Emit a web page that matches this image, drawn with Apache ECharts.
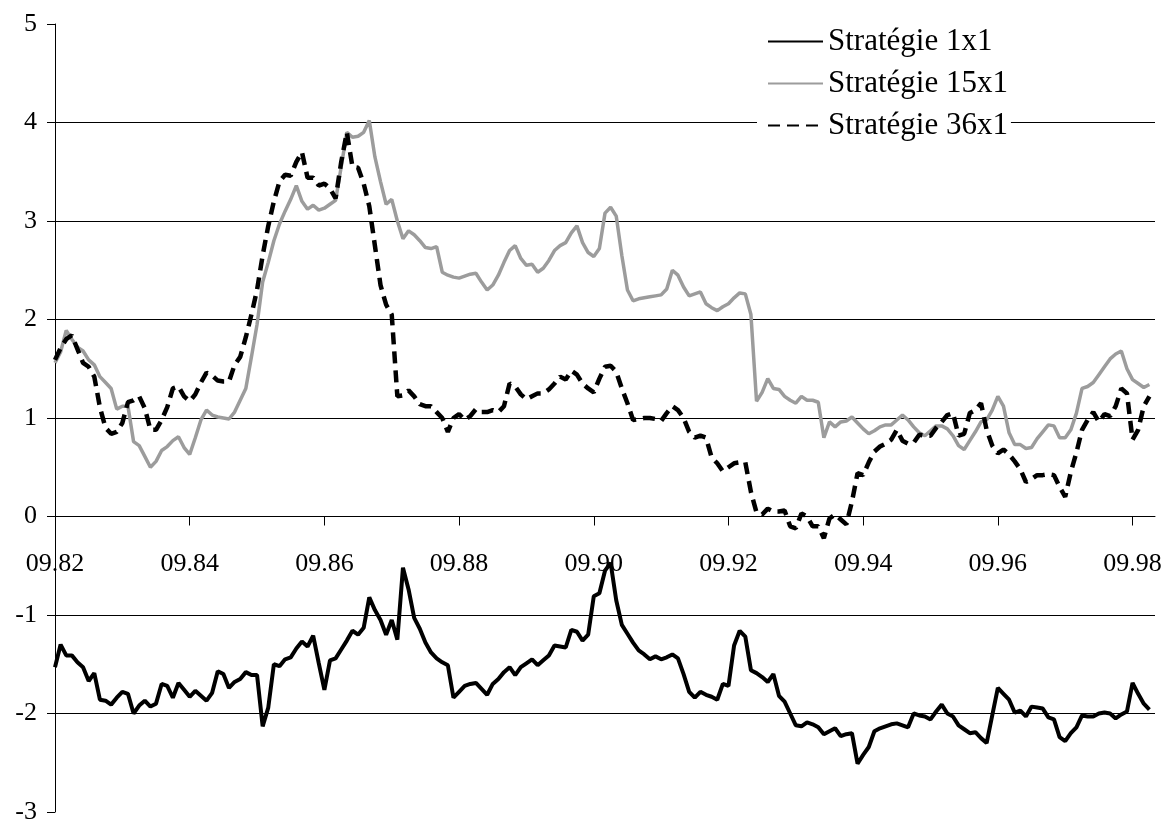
<!DOCTYPE html>
<html>
<head>
<meta charset="utf-8">
<script src="https://cdn.jsdelivr.net/npm/echarts@6/dist/echarts.min.js"></script>
<style>
  html, body { margin: 0; padding: 0; background: #fff; }
  #chart { width: 1164px; height: 822px; }
</style>
</head>
<body>
<div id="chart"></div>
<script>
// ---- Data ----
const startMonth = 9, startYear = 82, monthCount = 197;
const categories = [];
for (let k = 0; k < monthCount; k++) {
  const m = (startMonth - 1 + k) % 12 + 1;
  const y = (startYear + Math.floor((startMonth - 1 + k) / 12)) % 100;
  categories.push(String(m).padStart(2, '0') + '.' + String(y).padStart(2, '0'));
}

const seriesNames = ['Stratégie 1x1', 'Stratégie 15x1', 'Stratégie 36x1'];

const s1x1 = [
  -1.53, -1.30, -1.41, -1.41, -1.48, -1.53, -1.67, -1.59, -1.86, -1.87,
  -1.91, -1.84, -1.78, -1.80, -2.00, -1.92, -1.87, -1.93, -1.90, -1.70,
  -1.72, -1.84, -1.69, -1.76, -1.83, -1.77, -1.82, -1.87, -1.79, -1.57,
  -1.60, -1.74, -1.68, -1.65, -1.58, -1.61, -1.61, -2.13, -1.94, -1.50,
  -1.52, -1.45, -1.43, -1.34, -1.27, -1.32, -1.21, -1.49, -1.76, -1.46,
  -1.44, -1.35, -1.26, -1.16, -1.20, -1.13, -0.82, -0.95, -1.05, -1.20,
  -1.05, -1.25, -0.52, -0.74, -1.03, -1.14, -1.28, -1.38, -1.44, -1.48,
  -1.51, -1.84, -1.78, -1.72, -1.70, -1.69, -1.75, -1.81, -1.70, -1.65,
  -1.58, -1.53, -1.61, -1.53, -1.49, -1.45, -1.51, -1.46, -1.41, -1.31,
  -1.32, -1.33, -1.15, -1.17, -1.26, -1.20, -0.81, -0.78, -0.55, -0.47,
  -0.85, -1.10, -1.19, -1.28, -1.36, -1.40, -1.45, -1.42, -1.45, -1.43,
  -1.40, -1.44, -1.60, -1.78, -1.84, -1.78, -1.81, -1.83, -1.86, -1.70,
  -1.72, -1.31, -1.16, -1.22, -1.56, -1.59, -1.63, -1.68, -1.60, -1.82,
  -1.88, -2.00, -2.12, -2.13, -2.09, -2.11, -2.14, -2.21, -2.18, -2.15,
  -2.23, -2.21, -2.20, -2.51, -2.42, -2.34, -2.18, -2.15, -2.13, -2.11,
  -2.10, -2.12, -2.14, -2.00, -2.02, -2.03, -2.06, -1.98, -1.91, -2.00,
  -2.03, -2.12, -2.16, -2.20, -2.19, -2.25, -2.30, -2.02, -1.74, -1.80,
  -1.86, -1.99, -1.97, -2.03, -1.93, -1.94, -1.95, -2.04, -2.06, -2.24,
  -2.28, -2.20, -2.14, -2.02, -2.03, -2.03, -2.00, -1.99, -2.00, -2.05,
  -2.01, -1.98, -1.69, -1.80, -1.90, -1.96
];

const s15x1 = [
  1.56, 1.67, 1.89, 1.80, 1.72, 1.68, 1.59, 1.54, 1.42, 1.36,
  1.30, 1.09, 1.12, 1.12, 0.76, 0.72, 0.61, 0.50, 0.56, 0.67,
  0.71, 0.77, 0.81, 0.70, 0.63, 0.80, 0.98, 1.08, 1.03, 1.01,
  1.00, 0.99, 1.06, 1.18, 1.30, 1.62, 1.95, 2.38, 2.58, 2.80,
  2.97, 3.10, 3.22, 3.36, 3.20, 3.12, 3.16, 3.11, 3.13, 3.17,
  3.21, 3.55, 3.90, 3.85, 3.86, 3.90, 4.02, 3.65, 3.40, 3.17,
  3.22, 3.00, 2.82, 2.90, 2.86, 2.80, 2.73, 2.72, 2.74, 2.48,
  2.45, 2.43, 2.42, 2.44, 2.46, 2.47, 2.38, 2.30, 2.35, 2.45,
  2.58, 2.70, 2.75, 2.62, 2.55, 2.56, 2.48, 2.52, 2.60, 2.70,
  2.75, 2.78, 2.88, 2.95, 2.78, 2.68, 2.64, 2.72, 3.08, 3.14,
  3.05, 2.65, 2.30, 2.19, 2.21, 2.22, 2.23, 2.24, 2.25, 2.31,
  2.50, 2.45, 2.33, 2.24, 2.26, 2.28, 2.16, 2.12, 2.09, 2.13,
  2.16, 2.22, 2.27, 2.26, 2.05, 1.17, 1.26, 1.40, 1.30, 1.29,
  1.22, 1.18, 1.15, 1.22, 1.18, 1.18, 1.16, 0.80, 0.96, 0.91,
  0.96, 0.97, 1.01, 0.95, 0.89, 0.84, 0.87, 0.91, 0.93, 0.93,
  0.98, 1.03, 0.98, 0.91, 0.85, 0.82, 0.87, 0.92, 0.92, 0.89,
  0.82, 0.72, 0.68, 0.77, 0.86, 0.96, 0.98, 1.08, 1.22, 1.12,
  0.85, 0.73, 0.73, 0.69, 0.70, 0.79, 0.86, 0.93, 0.92, 0.80,
  0.80, 0.88, 1.05, 1.30, 1.32, 1.36, 1.44, 1.52, 1.60, 1.65,
  1.68, 1.50, 1.39, 1.35, 1.31, 1.34
];

const s36x1 = [
  1.59, 1.71, 1.80, 1.84, 1.70, 1.56, 1.52, 1.42, 1.11, 0.90,
  0.84, 0.86, 0.95, 1.16, 1.18, 1.22, 1.10, 0.88, 0.88, 0.98,
  1.11, 1.30, 1.32, 1.22, 1.17, 1.24, 1.36, 1.46, 1.43, 1.38,
  1.37, 1.37, 1.54, 1.62, 1.82, 2.05, 2.30, 2.65, 2.95, 3.20,
  3.40, 3.47, 3.46, 3.60, 3.70, 3.44, 3.44, 3.36, 3.38, 3.33,
  3.23, 3.60, 3.90, 3.55, 3.54, 3.38, 3.15, 2.75, 2.35, 2.15,
  2.05, 1.22, 1.23, 1.28, 1.22, 1.14, 1.12, 1.12, 1.06, 1.00,
  0.86, 1.00, 1.04, 0.98, 1.02, 1.09, 1.06, 1.06, 1.08, 1.06,
  1.12, 1.35, 1.32, 1.24, 1.19, 1.22, 1.25, 1.25, 1.29, 1.35,
  1.42, 1.39, 1.48, 1.44, 1.35, 1.30, 1.26, 1.40, 1.52, 1.53,
  1.47, 1.30, 1.15, 0.98, 0.99, 1.00, 1.00, 0.99, 0.97, 1.05,
  1.12, 1.08, 1.00, 0.86, 0.80, 0.82, 0.80, 0.60, 0.54, 0.46,
  0.50, 0.54, 0.55, 0.55, 0.25, 0.04, 0.02, 0.08, 0.05, 0.05,
  0.06, -0.10, -0.12, 0.03, 0.00, -0.10, -0.10, -0.22, -0.02, 0.02,
  -0.03, -0.08, 0.15, 0.44, 0.42, 0.55, 0.66, 0.71, 0.74, 0.78,
  0.88, 0.77, 0.74, 0.75, 0.83, 0.82, 0.82, 0.90, 0.96, 1.03,
  1.05, 0.82, 0.84, 1.05, 1.08, 1.15, 0.88, 0.72, 0.64, 0.68,
  0.63, 0.56, 0.48, 0.35, 0.38, 0.42, 0.42, 0.43, 0.42, 0.30,
  0.20, 0.45, 0.65, 0.88, 0.98, 1.06, 0.96, 1.04, 1.02, 1.12,
  1.30, 1.25, 0.78, 0.88, 1.12, 1.22
];

// ---- Chart ----
const FONT = "'Liberation Serif', 'Times New Roman', serif";
const Y_MIN = -3, Y_MAX = 5;
const GRID = { left: 55, right: 9, top: 24, bottom: 10 };
const chartH = 822;
const gridH = chartH - GRID.top - GRID.bottom;
// distance (px) from the grid bottom up to the zero line, used to place the date labels
const zeroOffset = gridH * (0 - Y_MIN) / (Y_MAX - Y_MIN);

const chart = echarts.init(document.getElementById('chart'), null, { renderer: 'canvas' });
chart.setOption({
  animation: false,
  backgroundColor: '#fff',
  grid: Object.assign({ containLabel: false, outerBoundsMode: 'none' }, GRID),
  legend: {
    orient: 'vertical',
    left: 757,
    top: 26,
    itemWidth: 55,
    itemHeight: 14,
    itemGap: 11,
    padding: [0, 3, 0, 10],
    backgroundColor: '#fff',
    data: seriesNames,
    itemStyle: { opacity: 0 },
    textStyle: { fontFamily: FONT, fontSize: 31, color: '#000', lineHeight: 30 }
  },
  xAxis: [
    {
      type: 'category',
      data: categories,
      boundaryGap: false,
      axisLine: { onZero: true, onZeroAxisIndex: 0, lineStyle: { color: '#000', width: 1 } },
      axisTick: { show: true, interval: 23, length: 9, lineStyle: { color: '#000' } },
      axisLabel: { show: false },
      splitLine: { show: false }
    },
    {
      type: 'category',
      data: categories,
      boundaryGap: false,
      position: 'bottom',
      offset: -zeroOffset,
      axisLine: { show: false, onZero: false },
      axisTick: { show: false },
      axisLabel: { show: true, interval: 23, margin: 35, fontFamily: FONT, fontSize: 26, color: '#000' },
      splitLine: { show: false }
    }
  ],
  yAxis: {
    type: 'value',
    min: Y_MIN,
    max: Y_MAX,
    interval: 1,
    axisLine: { show: true, onZero: false, lineStyle: { color: '#000', width: 1 } },
    axisTick: { show: true, length: 8, lineStyle: { color: '#000' } },
    axisLabel: { margin: 18, fontFamily: FONT, fontSize: 26, color: '#000' },
    splitLine: { show: true, showMinLine: false, showMaxLine: false, lineStyle: { color: '#000', width: 1 } }
  },
  series: [
    {
      name: seriesNames[1], type: 'line', data: s15x1, symbol: 'none', z: 3,
      lineStyle: { color: '#9c9c9c', width: 3.5 }, itemStyle: { color: '#9c9c9c' }
    },
    {
      name: seriesNames[2], type: 'line', data: s36x1, symbol: 'none', z: 4,
      lineStyle: { color: '#000', width: 4.5, type: [12, 7] }, itemStyle: { color: '#000' }
    },
    {
      name: seriesNames[0], type: 'line', data: s1x1, symbol: 'none', z: 5,
      lineStyle: { color: '#000', width: 4 }, itemStyle: { color: '#000' }
    }
  ]
});
</script>
</body>
</html>
